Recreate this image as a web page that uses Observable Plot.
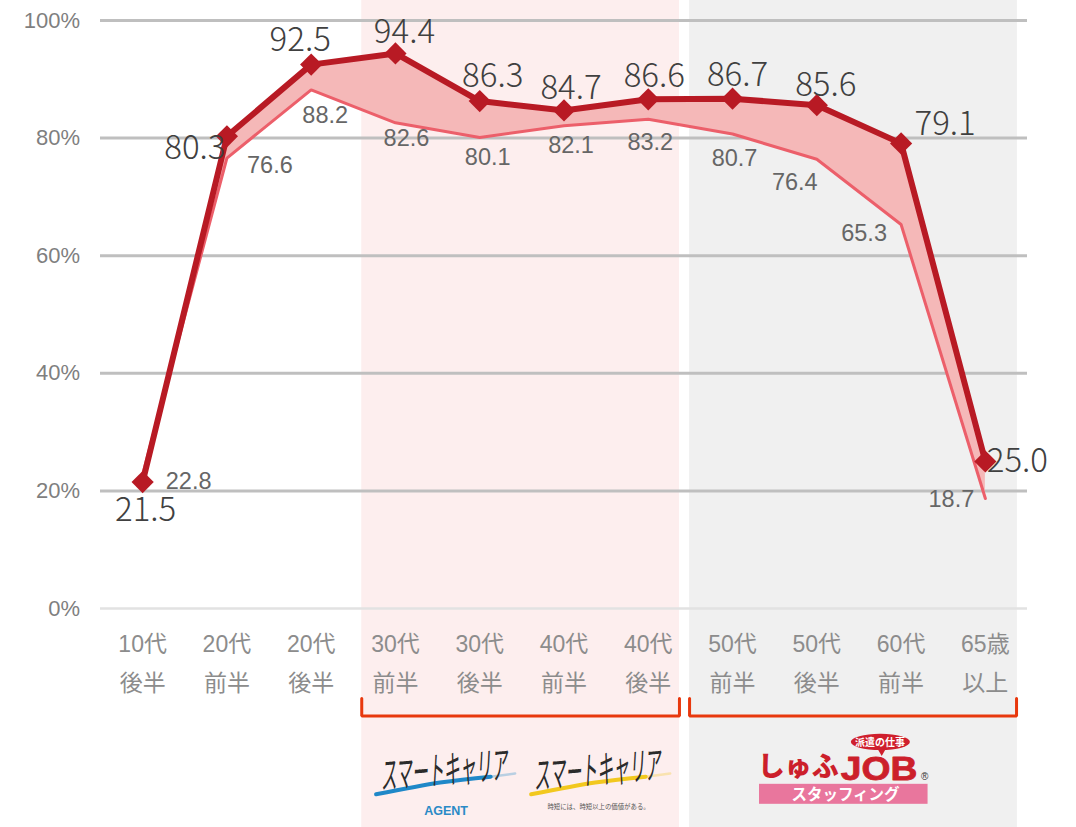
<!DOCTYPE html>
<html lang="ja">
<head>
<meta charset="utf-8">
<style>html,body{margin:0;padding:0;background:#fff}svg{display:block}</style>
<script src="https://cdn.jsdelivr.net/npm/d3@7"></script>
<script src="https://cdn.jsdelivr.net/npm/@observablehq/plot@0.6"></script>
</head>
<body>
<div id="chart"></div>
<script>
const ageLabels = ["10代\n後半","20代\n前半","20代\n後半","30代\n前半","30代\n後半","40代\n前半","40代\n後半","50代\n前半","50代\n後半","60代\n前半","65歳\n以上"];
const upperValues = [21.5,80.3,92.5,94.4,86.3,84.7,86.6,86.7,85.6,79.1,25.0];
const lowerValues = [22.8,76.6,88.2,82.6,80.1,82.1,83.2,80.7,76.4,65.3,18.7];
const yTicks = [0,20,40,60,80,100];

// label offsets in pixels, kept apart from the values
const upperOffsets = [[3,28],[-32,12],[-11,-24],[9,-21],[13,-25],[7,-22],[6,-23],[5,-23],[9,-20],[44,-19],[32,0]];
const lowerOffsets = [[46,7],[43,7],[14,26],[11,16],[8,20],[7,20],[2,23],[2,24],[-22,23],[-37,9],[-34,1]];

const idx = d3.range(ageLabels.length);
const rows = idx.map(i => ({i, upper: upperValues[i], lower: lowerValues[i]}));

const CJK = "'Noto Sans CJK JP','Noto Sans',sans-serif";
const SANS = "'Liberation Sans',Arial,sans-serif";
const MIXED = "'Liberation Sans','Noto Sans CJK JP',sans-serif";

// panels and brackets, in axis units
const bands = [
  {x1:2.6, x2:6.37, y1:-37.3, y2:103.5, fill:"#fdeeee"},
  {x1:6.49, x2:10.38, y1:-37.3, y2:103.5, fill:"#f0f0f0"}
];
const bracket = (a,b) => [{x:a,y:-15.3},{x:a,y:-18.3},{x:b,y:-18.3},{x:b,y:-15.3}];
const brackets = [bracket(2.6,6.37), bracket(6.49,10.37)];
const streak = (x0) => [{x:x0,y:-31.6},{x:x0+0.76,y:-29.6},{x:x0+1.36,y:-28.6}];
const streakFade = (x0) => [{x:x0+1.36,y:-28.6},{x:x0+1.65,y:-28.06}];

// squeezes text marks horizontally so the logo lettering keeps its tall shape
const squeeze = (sx, skew = 0) => (index, scales, values, dims, ctx, next) => {
  const g = next(index, scales, values, dims, ctx);
  g.querySelectorAll("text").forEach(t => {
    t.setAttribute("transform", (t.getAttribute("transform") || "") + ` skewX(${skew}) scale(${sx},1)`);
  });
  return g;
};

const chart = Plot.plot({
  width:1076, height:827,
  marginLeft:100, marginRight:49, marginTop:20, marginBottom:219,
  style:{background:"#fff", overflow:"visible", fontFamily:SANS},
  x:{type:"linear", domain:[-0.5,10.5], range:[100,1027], axis:null},
  y:{type:"linear", domain:[0,100], range:[608,20], axis:null},
  marks:[
    Plot.rect(bands,{x1:"x1",x2:"x2",y1:"y1",y2:"y2",fill:"fill",clip:false}),
    Plot.ruleY(yTicks.filter(t=>t>0),{stroke:"#bfbfbf",strokeWidth:3}),
    Plot.ruleY([0],{stroke:"#e2e2e2",strokeWidth:2.5}),
    Plot.axisY({ticks:yTicks,tickSize:0,tickPadding:0,anchor:"left",dx:-20.5,label:null,
      tickFormat:d=>d+"%",fontSize:22,fill:"#7f7f7f",fontFamily:SANS}),
    Plot.text(idx,{x:d=>d,y:0,text:d=>ageLabels[d],lineAnchor:"top",dy:16,lineHeight:1.7,
      fontSize:23,fill:"#8c8c8c",fontFamily:MIXED}),
    Plot.areaY(rows,{x:"i",y1:"lower",y2:"upper",fill:"#f5b8b8"}),
    Plot.line(rows,{x:"i",y:"lower",stroke:"#ec5f6a",strokeWidth:3,strokeLinejoin:"miter"}),
    Plot.line(rows,{x:"i",y:"upper",stroke:"#b81a24",strokeWidth:6,strokeLinejoin:"miter"}),
    Plot.dot(rows,{x:"i",y:"upper",symbol:"diamond2",r:10,fill:"#b81a24"}),
    ...rows.map((d,k)=>Plot.text([d],{x:"i",y:"lower",text:r=>r.lower.toFixed(1),dx:lowerOffsets[k][0],dy:lowerOffsets[k][1],
      fontSize:23.5,fill:"#666666",fontFamily:SANS})),
    ...rows.map((d,k)=>Plot.text([d],{x:"i",y:"upper",text:r=>r.upper.toFixed(1),dx:upperOffsets[k][0],dy:upperOffsets[k][1],
      fontSize:33,fill:"#404040",fontFamily:CJK,fontWeight:300})),
    ...brackets.map(b=>Plot.line(b,{x:"x",y:"y",stroke:"#e8380d",strokeWidth:3,strokeLinejoin:"miter"})),

    // logos
    ...[2.77,4.61].map((x0,k)=>Plot.line(streak(x0),{x:"x",y:"y",stroke:k?"#f2c81e":"#1f88c8",strokeWidth:4,curve:"natural"})),
    ...[2.77,4.61].map((x0,k)=>Plot.line(streakFade(x0),{x:"x",y:"y",stroke:k?"#f2c81e":"#1f88c8",strokeWidth:2.5,strokeOpacity:0.3})),
    Plot.text(["スマートキャリア"],{x:3.59,y:-27.7,rotate:-5,fontSize:38,fill:"#2b2b2b",fontFamily:CJK,fontWeight:400,render:squeeze(0.42,-8)}),
    Plot.text(["スマートキャリア"],{x:5.41,y:-27.7,rotate:-5,fontSize:38,fill:"#2b2b2b",fontFamily:CJK,fontWeight:400,render:squeeze(0.42,-8)}),
    Plot.text(["AGENT"],{x:3.6,y:-34.4,fontSize:12.5,fontWeight:700,fill:"#2a8ac6",fontFamily:SANS}),
    Plot.text(["時短には、時短以上の価値がある。"],{x:5.41,y:-33.8,fontSize:6.4,fill:"#555",fontFamily:CJK}),
    Plot.rect([0],{x1:8.41,x2:9.11,y1:-24.15,y2:-21.4,fill:"#cf1f2d",rx:29,ry:8}),
    Plot.dot([0],{x:8.77,y:-24.3,symbol:"triangle",r:3,rotate:180,fill:"#cf1f2d"}),
    Plot.text(["派遣の仕事"],{x:8.75,y:-22.8,fontSize:10,fontWeight:700,fill:"#fff",fontFamily:CJK}),
    Plot.text(["しゅふ"],{x:7.78,y:-27.1,fontSize:27,fontWeight:900,fill:"#cc1f2b",fontFamily:CJK}),
    Plot.text(["JOB"],{x:8.74,y:-27.3,fontSize:33,fontWeight:700,fill:"#cc1f2b",stroke:"#cc1f2b",strokeWidth:0.8,fontFamily:SANS,render:squeeze(1.13)}),
    Plot.text(["®"],{x:9.28,y:-28.6,fontSize:10,fill:"#333",fontFamily:SANS}),
    Plot.rect([0],{x1:7.32,x2:9.32,y1:-33.3,y2:-29.9,fill:"#e9769d"}),
    Plot.text(["スタッフィング"],{x:8.34,y:-31.75,fontSize:15.5,fontWeight:700,fill:"#fff",fontFamily:CJK})
  ]
});
document.getElementById("chart").appendChild(chart);
</script>
</body>
</html>
